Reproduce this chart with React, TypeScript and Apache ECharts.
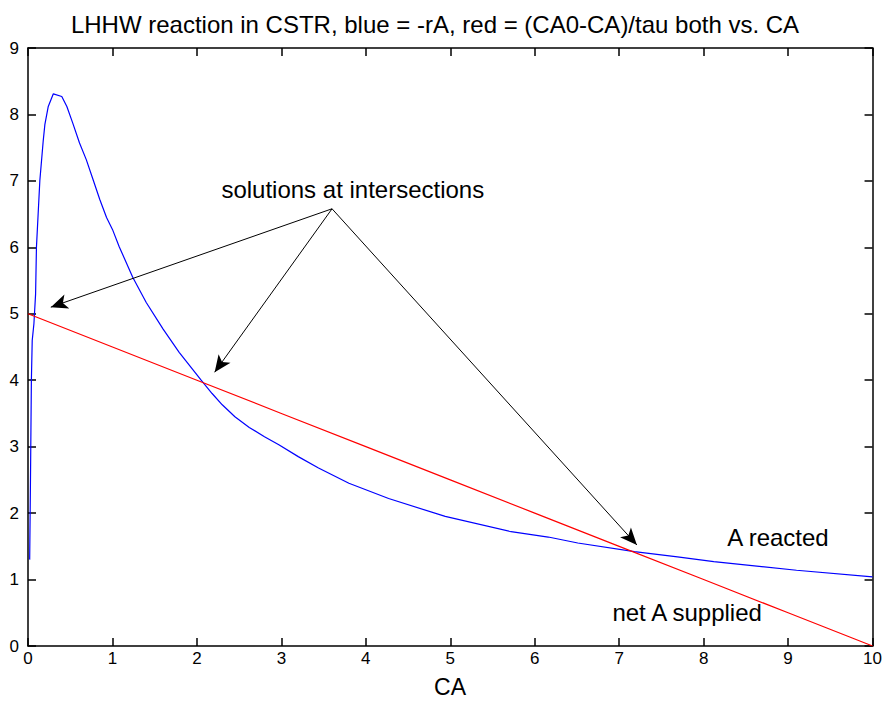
import React, { useEffect, useRef } from "react";
import * as echarts from "echarts";

// Blue curve: -rA vs CA
const CA_BLUE = [0.02, 0.03, 0.04, 0.05, 0.07, 0.09, 0.1, 0.12, 0.14, 0.18, 0.2, 0.24, 0.3, 0.4, 0.46, 0.53, 0.61, 0.69, 0.77, 0.85, 0.93, 1.0, 1.08, 1.24, 1.4, 1.6, 1.79, 2.05, 2.18, 2.3, 2.45, 2.62, 2.8, 2.97, 3.2, 3.44, 3.8, 4.27, 4.94, 5.72, 6.16, 6.51, 7.18, 7.69, 8.12, 9.1, 10.0];
const RATE_BLUE = [1.3, 2.6, 4.0, 4.6, 4.85, 5.3, 6.0, 6.5, 7.0, 7.6, 7.85, 8.12, 8.31, 8.27, 8.12, 7.87, 7.57, 7.32, 7.02, 6.72, 6.45, 6.27, 6.01, 5.55, 5.17, 4.77, 4.42, 4.0, 3.8, 3.63, 3.45, 3.29, 3.15, 3.03, 2.85, 2.68, 2.45, 2.22, 1.95, 1.72, 1.64, 1.55, 1.42, 1.34, 1.27, 1.14, 1.04];

// Red line: (CA0-CA)/tau vs CA
const CA_RED = [0, 1, 2, 3, 4, 5, 6, 7, 8, 9, 10];
const SUPPLY_RED = [5, 4.5, 4, 3.5, 3, 2.5, 2, 1.5, 1, 0.5, 0];

// Annotation arrows: start (apex) and tips
const ARROW_START = [3.6, 6.58];
const ARROW_TIPS = [
  [0.27, 5.1],
  [2.21, 4.12],
  [7.21, 1.52],
];

// Text annotations [x, y, text]
const LABELS: [number, number, string][] = [
  [2.29, 6.87, "solutions at intersections"],
  [8.28, 1.63, "A reacted"],
  [6.92, 0.5, "net A supplied"],
];

const TITLE = "LHHW reaction in CSTR, blue = -rA, red = (CA0-CA)/tau both vs. CA";
const X_NAME = "CA";

const FONT = '"Liberation Sans", Arial, Helvetica, sans-serif';

export default function App() {
  const ref = useRef<HTMLDivElement>(null);
  useEffect(() => {
    const chart = echarts.init(ref.current!, null, { renderer: "svg" });
    const blue = CA_BLUE.map((x, i) => [x, RATE_BLUE[i]]);
    const red = CA_RED.map((x, i) => [x, SUPPLY_RED[i]]);
    const axisLine = { show: true, onZero: false, lineStyle: { color: "#000", width: 1.5 } };
    const axisTick = { show: true, inside: true, length: 8, lineStyle: { color: "#000", width: 1.5 } };
    chart.setOption({
      animation: false,
      grid: { left: 28, top: 48, width: 848, height: 598, containLabel: false },
      xAxis: [
        {
          type: "value", min: 0, max: 10, interval: 1, position: "bottom",
          axisLine, axisTick,
          axisLabel: { color: "#000", fontSize: 17, fontFamily: FONT, margin: 4 },
          splitLine: { show: false },
        },
        {
          type: "value", min: 0, max: 10, interval: 1, position: "top",
          axisLine, axisTick, axisLabel: { show: false }, splitLine: { show: false },
        },
      ],
      yAxis: [
        {
          type: "value", min: 0, max: 9, interval: 1, position: "left",
          axisLine, axisTick,
          axisLabel: { color: "#000", fontSize: 17, fontFamily: FONT, margin: 9 },
          splitLine: { show: false },
        },
        {
          type: "value", min: 0, max: 9, interval: 1, position: "right",
          axisLine, axisTick, axisLabel: { show: false }, splitLine: { show: false },
        },
      ],
      series: [
        {
          type: "line", data: blue, showSymbol: false, silent: true,
          lineStyle: { color: "#0000ff", width: 1.2 }, itemStyle: { color: "#0000ff" },
        },
        {
          type: "line", data: red, showSymbol: false, silent: true,
          lineStyle: { color: "#ff0000", width: 1.2 }, itemStyle: { color: "#ff0000" },
          markLine: {
            silent: true,
            symbol: ["none", "arrow"],
            symbolSize: [11, 17],
            label: { show: false },
            lineStyle: { color: "#000", width: 1, type: "solid" },
            itemStyle: { color: "#000" },
            emphasis: { disabled: true },
            data: ARROW_TIPS.map((t) => [{ coord: ARROW_START }, { coord: t }]),
          },
        },
      ],
    });
    const texts = LABELS.map(([x, y, t]) => {
      const p = chart.convertToPixel({ xAxisIndex: 0, yAxisIndex: 0 }, [x, y]) as number[];
      return {
        type: "text", x: p[0], y: p[1],
        style: { text: t, fill: "#000", font: `24px ${FONT}`, textAlign: "left", textVerticalAlign: "middle" },
      };
    });
    chart.setOption({
      graphic: [
        { type: "text", x: 435, y: 24, style: { text: TITLE, fill: "#000", font: `24px ${FONT}`, textAlign: "center", textVerticalAlign: "middle" } },
        { type: "text", x: 450, y: 687, style: { text: X_NAME, fill: "#000", font: `23px ${FONT}`, textAlign: "center", textVerticalAlign: "middle" } },
        ...texts,
      ],
    });
    return () => chart.dispose();
  }, []);
  return <div ref={ref} style={{ position: "fixed", left: 0, top: 0, width: 885, height: 702, background: "#fff" }} />;
}
